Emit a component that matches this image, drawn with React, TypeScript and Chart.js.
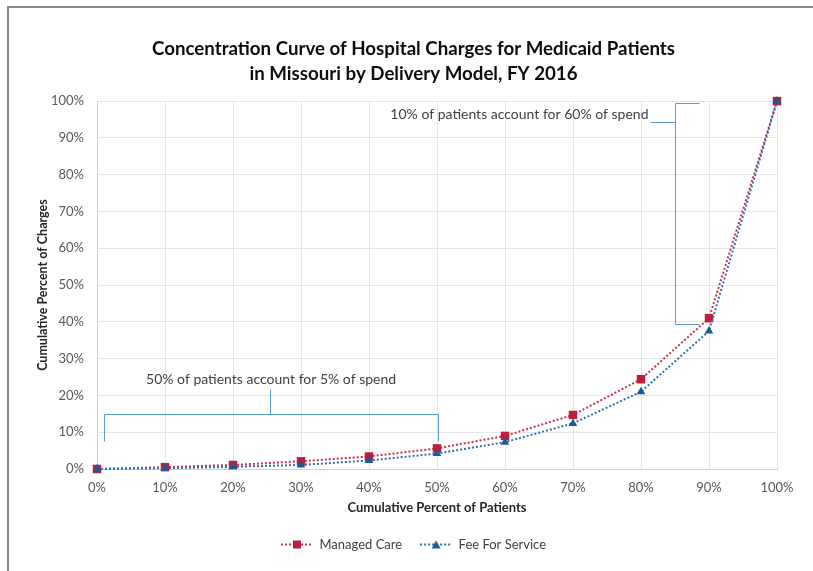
import React, { useEffect, useRef } from "react";
import { Chart, registerables } from "chart.js";

Chart.register(...registerables);

const titleLines = [
  "Concentration Curve of Hospital Charges for Medicaid Patients",
  "in Missouri by Delivery Model, FY 2016",
];
const patientPct = [0, 10, 20, 30, 40, 50, 60, 70, 80, 90, 100];
const managedCare = [0, 0.5, 1.1, 2.1, 3.4, 5.6, 9.0, 14.7, 24.4, 41.0, 100];
const feeForService = [0, 0.2, 0.6, 1.1, 2.3, 4.2, 7.3, 12.4, 21.0, 37.5, 100];
const seriesNames = ["Managed Care", "Fee For Service"];
const xAxisTitle = "Cumulative Percent of Patients";
const yAxisTitle = "Cumulative Percent of Charges";

// bracket annotations in data units (x = % of patients, y = % of charges)
const bracketPaths = [
  [[1, 7.5], [1, 15], [50.2, 15], [50.2, 7.5]],
  [[25.4, 15], [25.4, 21.8]],
  [[88.5, 99.6], [85, 99.6], [85, 39.3], [88.5, 39.3]],
  [[81.3, 94.2], [85, 94.2]],
];
const annotationTexts = [
  { text: "50% of patients account for 5% of spend", x: 25.6, y: 24.4, align: "center" },
  { text: "10% of patients account for 60% of spend", x: 81.1, y: 96.4, align: "right" },
];

const FONT = "Lato";
const MC_COLOR = "#BE1E3C";
const MC_LINE = "#C8324C";
const FFS_COLOR = "#1C5A96";
const FFS_LINE = "#2E70B0";

function legendIcon(lineColor: string, markColor: string, kind: string) {
  const c = document.createElement("canvas");
  c.width = 32;
  c.height = 12;
  const ctx = c.getContext("2d")!;
  ctx.strokeStyle = lineColor;
  ctx.lineWidth = 2;
  ctx.setLineDash([2, 2]);
  ctx.beginPath();
  ctx.moveTo(0, 6);
  ctx.lineTo(32, 6);
  ctx.stroke();
  ctx.setLineDash([]);
  ctx.fillStyle = markColor;
  if (kind === "rect") {
    ctx.fillRect(12, 2, 8, 8);
  } else {
    ctx.beginPath();
    ctx.moveTo(16, 2);
    ctx.lineTo(20.5, 10);
    ctx.lineTo(11.5, 10);
    ctx.closePath();
    ctx.fill();
  }
  return c;
}

const decorPlugin = {
  id: "decor",
  beforeDraw(chart: any) {
    const ctx = chart.ctx;
    ctx.save();
    ctx.fillStyle = "#ffffff";
    ctx.fillRect(0, 0, chart.width, chart.height);
    ctx.strokeStyle = "#8A8A8A";
    ctx.lineWidth = 2;
    ctx.beginPath();
    ctx.moveTo(8, chart.height);
    ctx.lineTo(8, 7);
    ctx.lineTo(chart.width, 7);
    ctx.stroke();
    ctx.restore();
  },
  beforeDatasetsDraw(chart: any) {
    const ctx = chart.ctx;
    const xs = chart.scales.x;
    const ys = chart.scales.y;
    ctx.save();
    ctx.strokeStyle = "#5B9BD5";
    ctx.lineWidth = 1;
    bracketPaths.forEach((path) => {
      ctx.beginPath();
      path.forEach(([x, y], i) => {
        const px = Math.round(xs.getPixelForValue(x)) + 0.5;
        const py = Math.round(ys.getPixelForValue(y)) + 0.5;
        if (i === 0) ctx.moveTo(px, py);
        else ctx.lineTo(px, py);
      });
      ctx.stroke();
    });
    ctx.fillStyle = "#404040";
    ctx.font = `14px ${FONT}`;
    ctx.textBaseline = "middle";
    annotationTexts.forEach((a) => {
      ctx.textAlign = a.align as CanvasTextAlign;
      ctx.fillText(a.text, xs.getPixelForValue(a.x), ys.getPixelForValue(a.y));
    });
    ctx.restore();
  },
};

export default function App() {
  const ref = useRef<HTMLCanvasElement>(null);
  useEffect(() => {
    const icons = [
      legendIcon(MC_LINE, MC_COLOR, "rect"),
      legendIcon(FFS_LINE, FFS_COLOR, "triangle"),
    ];
    const chart = new Chart(ref.current!, {
      type: "line",
      data: {
        datasets: [
          {
            label: seriesNames[0],
            data: patientPct.map((x, i) => ({ x, y: managedCare[i] })),
            borderColor: MC_LINE,
            backgroundColor: MC_COLOR,
            borderWidth: 2,
            borderDash: [2, 2],
            pointStyle: "rect",
            pointRadius: 6,
            pointBackgroundColor: MC_COLOR,
            pointBorderColor: MC_COLOR,
            pointBorderWidth: 0,
            tension: 0,
            clip: false,
            order: 1,
          },
          {
            label: seriesNames[1],
            data: patientPct.map((x, i) => ({ x, y: feeForService[i] })),
            borderColor: FFS_LINE,
            backgroundColor: FFS_COLOR,
            borderWidth: 2,
            borderDash: [2, 2],
            pointStyle: "triangle",
            pointRadius: 5,
            pointBackgroundColor: FFS_COLOR,
            pointBorderColor: FFS_COLOR,
            pointBorderWidth: 0,
            tension: 0,
            clip: false,
            order: 0,
          },
        ],
      },
      options: {
        responsive: false,
        animation: false,
        layout: { padding: { left: 50, right: 36, top: 0, bottom: 10 } },
        scales: {
          x: {
            type: "linear",
            min: 0,
            max: 100,
            ticks: {
              stepSize: 10,
              padding: 11,
              color: "#595959",
              font: { family: FONT, size: 13 },
              callback: (v: any) => v + "%",
            },
            grid: { color: "#E3E6EC", drawTicks: false },
            border: { color: "#C9D0DC" },
            title: {
              display: true,
              text: xAxisTitle,
              color: "#262626",
              font: { family: FONT, size: 13, weight: "bold" },
              padding: { top: 0, bottom: 4 },
            },
            afterFit: (s: any) => {
              s.height = 51;
            },
          },
          y: {
            min: 0,
            max: 100,
            ticks: {
              stepSize: 10,
              padding: 13,
              color: "#595959",
              font: { family: FONT, size: 13 },
              callback: (v: any) => v + "%",
            },
            grid: { color: "#E3E6EC", drawTicks: false },
            border: { color: "#C9D0DC" },
            title: {
              display: true,
              text: yAxisTitle,
              color: "#262626",
              font: { family: FONT, size: 12.5, weight: "bold" },
              padding: { top: -15, bottom: 0 },
            },
            afterFit: (s: any) => {
              s.width = 47;
            },
          },
        },
        plugins: {
          title: {
            display: true,
            text: titleLines,
            color: "#0d0d0d",
            font: { family: FONT, size: 18.7, weight: "bold", lineHeight: 1.34 },
            padding: { top: 36, bottom: 15 },
          },
          legend: {
            position: "bottom",
            labels: {
              usePointStyle: true,
              pointStyleWidth: 32,
              padding: 18,
              color: "#404040",
              font: { family: FONT, size: 13 },
              generateLabels: () =>
                seriesNames.map((name, i) => ({
                  text: name,
                  pointStyle: icons[i],
                  fillStyle: "transparent",
                  strokeStyle: "transparent",
                  lineWidth: 0,
                  hidden: false,
                  datasetIndex: i,
                  fontColor: "#404040",
                })),
            },
          },
          tooltip: { enabled: false },
        },
      },
      plugins: [decorPlugin],
    });
    return () => chart.destroy();
  }, []);
  return (
    <div style={{ position: "fixed", left: 0, top: 0, width: 813, height: 571, background: "#fff" }}>
      <canvas ref={ref} width={813} height={571} style={{ display: "block" }} />
    </div>
  );
}
